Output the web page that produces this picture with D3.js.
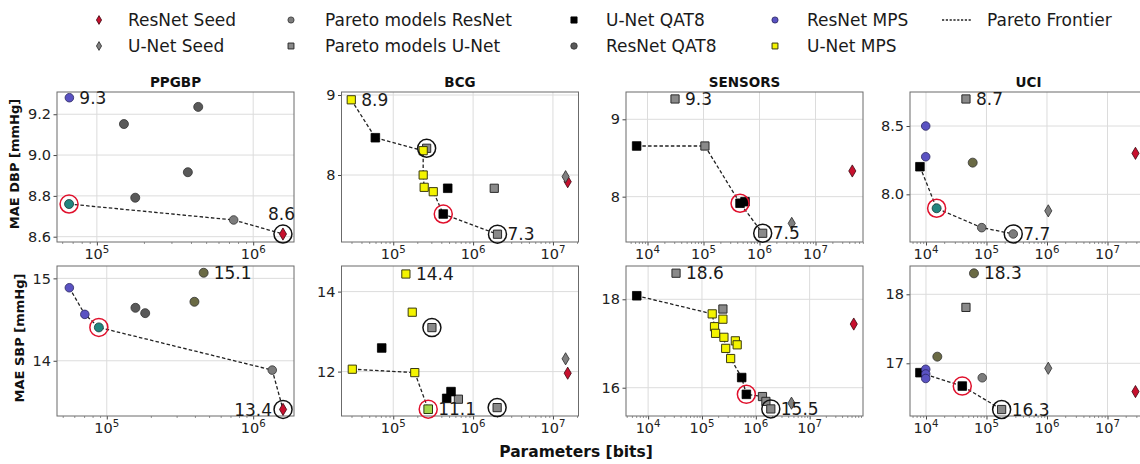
<!DOCTYPE html>
<html>
<head>
<meta charset="utf-8">
<script src="https://cdn.jsdelivr.net/npm/d3@7"></script>
<style>
  body { margin: 0; background: #fff; }
  svg { display: block; }
  text { font-family: "DejaVu Sans", sans-serif; }
</style>
</head>
<body>
<svg id="chart" width="1140" height="464"></svg>
<script>
// ---- data -------------------------------------------------------------
const datasets = ["PPGBP", "BCG", "SENSORS", "UCI"];
const metrics = ["DBP", "SBP"];
const metricLabels = ["MAE DBP [mmHg]", "MAE SBP [mmHg]"];

// every model point: [dataset, metric, parameters (bits), MAE (mmHg)]
const resnetSeed = [
  ["PPGBP", "DBP", 1.55e6, 8.613], ["PPGBP", "SBP", 1.60e6, 13.41],
  ["BCG", "DBP", 1.53e7, 7.916], ["BCG", "SBP", 1.53e7, 11.96],
  ["SENSORS", "DBP", 4.54e7, 8.332], ["SENSORS", "SBP", 6.6e7, 17.44],
  ["UCI", "DBP", 2.9e7, 8.30], ["UCI", "SBP", 2.9e7, 16.59]
];
const unetSeed = [
  ["BCG", "DBP", 1.44e7, 7.979], ["BCG", "SBP", 1.44e7, 12.32],
  ["SENSORS", "DBP", 3.76e6, 7.655], ["SENSORS", "SBP", 4.6e6, 15.65],
  ["UCI", "DBP", 1.05e6, 7.879], ["UCI", "SBP", 1.05e6, 16.928]
];
const paretoResNet = [
  ["PPGBP", "DBP", 7.5e5, 8.682], ["PPGBP", "SBP", 1.35e6, 13.887],
  ["UCI", "DBP", 8.34e4, 7.756], ["UCI", "DBP", 2.77e5, 7.71],
  ["UCI", "SBP", 8.51e4, 16.79]
];
const paretoUNet = [
  ["BCG", "DBP", 2.62e5, 8.334], ["BCG", "DBP", 1.84e6, 7.834], ["BCG", "DBP", 2.02e6, 7.26],
  ["BCG", "SBP", 3.05e5, 13.1], ["BCG", "SBP", 6.55e5, 11.31], ["BCG", "SBP", 2.0e6, 11.10],
  ["SENSORS", "DBP", 3.1e4, 9.263], ["SENSORS", "DBP", 1.06e5, 8.655], ["SENSORS", "DBP", 1.14e6, 7.527],
  ["SENSORS", "SBP", 3.3e4, 18.59], ["SENSORS", "SBP", 2.45e5, 17.78], ["SENSORS", "SBP", 1.33e6, 15.80],
  ["SENSORS", "SBP", 1.54e6, 15.69], ["SENSORS", "SBP", 1.9e6, 15.52],
  ["UCI", "DBP", 4.58e4, 8.698],
  ["UCI", "SBP", 4.58e4, 17.81], ["UCI", "SBP", 1.78e5, 16.33]
];
const unetQat8 = [
  ["BCG", "DBP", 5.97e4, 8.466], ["BCG", "DBP", 4.81e5, 7.834], ["BCG", "DBP", 4.23e5, 7.512],
  ["BCG", "SBP", 7.17e4, 12.59], ["BCG", "SBP", 5.29e5, 11.5], ["BCG", "SBP", 4.67e5, 11.33],
  ["SENSORS", "DBP", 6.4e3, 8.655], ["SENSORS", "DBP", 4.49e5, 7.915], ["SENSORS", "DBP", 5.51e5, 7.935],
  ["SENSORS", "SBP", 6.15e3, 18.08], ["SENSORS", "SBP", 5.47e5, 16.23], ["SENSORS", "SBP", 6.68e5, 15.85],
  ["UCI", "DBP", 7.95e3, 8.202],
  ["UCI", "SBP", 7.95e3, 16.864], ["UCI", "SBP", 3.98e4, 16.67]
];
const resnetQat8 = [
  ["PPGBP", "DBP", 1.49e5, 9.152], ["PPGBP", "DBP", 4.45e5, 9.236],
  ["PPGBP", "DBP", 3.82e5, 8.916], ["PPGBP", "DBP", 1.76e5, 8.791],
  ["PPGBP", "SBP", 1.57e5, 14.643], ["PPGBP", "SBP", 1.83e5, 14.578]
];
const resnetQat8Low = [
  ["PPGBP", "SBP", 3.97e5, 14.716], ["PPGBP", "SBP", 4.59e5, 15.068],
  ["UCI", "DBP", 5.92e4, 8.232],
  ["UCI", "SBP", 6.21e4, 18.304], ["UCI", "SBP", 1.54e4, 17.096]
];
const resnetMps = [
  ["PPGBP", "DBP", 6.67e4, 9.281],
  ["PPGBP", "SBP", 5.55e4, 14.886], ["PPGBP", "SBP", 7.08e4, 14.563],
  ["UCI", "DBP", 9.9e3, 8.5], ["UCI", "DBP", 9.9e3, 8.275],
  ["UCI", "SBP", 9.9e3, 16.913], ["UCI", "SBP", 9.9e3, 16.845], ["UCI", "SBP", 9.9e3, 16.78]
];
const unetMps = [
  ["BCG", "DBP", 2.98e4, 8.94], ["BCG", "DBP", 2.37e5, 8.304], ["BCG", "DBP", 2.37e5, 8.0],
  ["BCG", "DBP", 2.44e5, 7.846], ["BCG", "DBP", 3.17e5, 7.791],
  ["BCG", "SBP", 1.44e5, 14.44], ["BCG", "SBP", 1.73e5, 13.485],
  ["BCG", "SBP", 3.07e4, 12.06], ["BCG", "SBP", 1.86e5, 11.975],
  ["SENSORS", "SBP", 1.55e5, 17.67], ["SENSORS", "SBP", 2.45e5, 17.55], ["SENSORS", "SBP", 1.71e5, 17.38],
  ["SENSORS", "SBP", 1.79e5, 17.23], ["SENSORS", "SBP", 2.56e5, 17.14], ["SENSORS", "SBP", 4.17e5, 17.06],
  ["SENSORS", "SBP", 2.76e5, 16.89], ["SENSORS", "SBP", 4.51e5, 16.97], ["SENSORS", "SBP", 3.41e5, 16.66]
];
// chosen mixed-precision models (red ring)
const chosenResNet = [
  ["PPGBP", "DBP", 6.64e4, 8.760], ["PPGBP", "SBP", 8.83e4, 14.405], ["UCI", "DBP", 1.5e4, 7.898]
];
const chosenUNet = [
  ["BCG", "SBP", 2.74e5, 11.06]
];
const chosenRings = [
  ["PPGBP", "DBP", 6.64e4, 8.760], ["PPGBP", "SBP", 8.83e4, 14.405],
  ["BCG", "DBP", 4.23e5, 7.512], ["BCG", "SBP", 2.74e5, 11.06],
  ["SENSORS", "DBP", 4.49e5, 7.915], ["SENSORS", "SBP", 6.68e5, 15.85],
  ["UCI", "DBP", 1.5e4, 7.898], ["UCI", "SBP", 3.98e4, 16.67]
];
// reference models (black ring)
const referenceRings = [
  ["PPGBP", "DBP", 1.55e6, 8.613], ["PPGBP", "SBP", 1.60e6, 13.41],
  ["BCG", "DBP", 2.62e5, 8.334], ["BCG", "DBP", 2.02e6, 7.26],
  ["BCG", "SBP", 3.05e5, 13.1], ["BCG", "SBP", 2.0e6, 11.10],
  ["SENSORS", "DBP", 1.14e6, 7.527], ["SENSORS", "SBP", 1.9e6, 15.52],
  ["UCI", "DBP", 2.77e5, 7.71], ["UCI", "SBP", 1.78e5, 16.33]
];
// Pareto frontier, in drawing order per panel
const frontier = [
  ["PPGBP", "DBP", 6.64e4, 8.760], ["PPGBP", "DBP", 7.5e5, 8.682], ["PPGBP", "DBP", 1.55e6, 8.613],
  ["PPGBP", "SBP", 5.55e4, 14.886], ["PPGBP", "SBP", 7.08e4, 14.563], ["PPGBP", "SBP", 8.83e4, 14.405],
  ["PPGBP", "SBP", 1.35e6, 13.887], ["PPGBP", "SBP", 1.60e6, 13.41],
  ["BCG", "DBP", 2.98e4, 8.94], ["BCG", "DBP", 5.97e4, 8.466], ["BCG", "DBP", 2.37e5, 8.304],
  ["BCG", "DBP", 2.37e5, 8.0], ["BCG", "DBP", 2.44e5, 7.846], ["BCG", "DBP", 3.17e5, 7.791],
  ["BCG", "DBP", 4.23e5, 7.512], ["BCG", "DBP", 2.02e6, 7.26],
  ["BCG", "SBP", 3.07e4, 12.06], ["BCG", "SBP", 1.86e5, 11.975], ["BCG", "SBP", 2.74e5, 11.06],
  ["SENSORS", "DBP", 6.4e3, 8.655], ["SENSORS", "DBP", 1.06e5, 8.655],
  ["SENSORS", "DBP", 4.49e5, 7.915], ["SENSORS", "DBP", 1.14e6, 7.527],
  ["SENSORS", "SBP", 6.15e3, 18.08], ["SENSORS", "SBP", 1.55e5, 17.67], ["SENSORS", "SBP", 1.71e5, 17.38],
  ["SENSORS", "SBP", 1.79e5, 17.23], ["SENSORS", "SBP", 2.56e5, 17.14], ["SENSORS", "SBP", 2.76e5, 16.89],
  ["SENSORS", "SBP", 3.41e5, 16.66], ["SENSORS", "SBP", 5.47e5, 16.23], ["SENSORS", "SBP", 6.68e5, 15.85],
  ["SENSORS", "SBP", 1.33e6, 15.80], ["SENSORS", "SBP", 1.9e6, 15.52],
  ["UCI", "DBP", 7.95e3, 8.202], ["UCI", "DBP", 1.5e4, 7.898], ["UCI", "DBP", 8.34e4, 7.756],
  ["UCI", "DBP", 2.77e5, 7.71],
  ["UCI", "SBP", 7.95e3, 16.864], ["UCI", "SBP", 3.98e4, 16.67], ["UCI", "SBP", 1.78e5, 16.33]
];

// axis limits and y ticks per panel
const xLimits = [
  ["PPGBP", "DBP", 5.559e4, 1.824e6], ["PPGBP", "SBP", 4.571e4, 1.901e6],
  ["BCG", "DBP", 2.249e4, 2.089e7], ["BCG", "SBP", 2.249e4, 2.089e7],
  ["SENSORS", "DBP", 4.13e3, 7.047e7], ["SENSORS", "SBP", 3.882e3, 9.8e7],
  ["UCI", "DBP", 5.445e3, 4.498e7], ["UCI", "SBP", 5.445e3, 4.498e7]
];
const yLimits = [
  ["PPGBP", "DBP", 8.574, 9.309], ["PPGBP", "SBP", 13.33, 15.15],
  ["BCG", "DBP", 7.1625, 9.0375], ["BCG", "SBP", 10.89, 14.64],
  ["SENSORS", "DBP", 7.414, 9.353], ["SENSORS", "SBP", 15.36, 18.753],
  ["UCI", "DBP", 7.651, 8.749], ["UCI", "SBP", 16.236, 18.41]
];
const yTickValues = [
  ["PPGBP", "DBP", [8.6, 8.8, 9.0, 9.2]], ["PPGBP", "SBP", [14, 15]],
  ["BCG", "DBP", [8, 9]], ["BCG", "SBP", [12, 14]],
  ["SENSORS", "DBP", [8, 9]], ["SENSORS", "SBP", [16, 18]],
  ["UCI", "DBP", [8.0, 8.5]], ["UCI", "SBP", [17, 18]]
];
const yTickLabels = [
  ["PPGBP", "DBP", ["8.6", "8.8", "9.0", "9.2"]], ["PPGBP", "SBP", ["14", "15"]],
  ["BCG", "DBP", ["8", "9"]], ["BCG", "SBP", ["12", "14"]],
  ["SENSORS", "DBP", ["8", "9"]], ["SENSORS", "SBP", ["16", "18"]],
  ["UCI", "DBP", ["8.0", "8.5"]], ["UCI", "SBP", ["17", "18"]]
];

// ---- layout & styling -------------------------------------------------
const svg = d3.select("#chart");
const colLeft = [57, 341.5, 626, 910];
const panelW = 237;
const rowTop = [92, 266];
const panelH = 150;

const markerPath = {
  circle: s => d3.symbol(d3.symbolCircle, Math.PI * s * s)(),
  square: s => `M${-s},${-s}H${s}V${s}H${-s}Z`,
  diamond: s => `M0,${-s * 1.45}L${s * 0.85},0L0,${s * 1.45}L${-s * 0.85},0Z`
};

const series = [
  { data: resnetSeed,   name: "ResNet Seed",          shape: "diamond", size: 4.2, fill: "#c8102e", stroke: "#3b0710", sw: 0.8 },
  { data: unetSeed,     name: "U-Net Seed",           shape: "diamond", size: 4.2, fill: "#7f7f7f", stroke: "#2a2a2a", sw: 0.8 },
  { data: paretoResNet, name: "Pareto models ResNet", shape: "circle",  size: 4.3, fill: "#7c7c7c", stroke: "#333", sw: 0.8 },
  { data: paretoUNet,   name: "Pareto models U-Net",  shape: "square",  size: 4.1, fill: "#8a8a8a", stroke: "#2a2a2a", sw: 1 },
  { data: unetQat8,     name: "U-Net QAT8",           shape: "square",  size: 4.3, fill: "#000", stroke: "#000", sw: 0.8 },
  { data: resnetQat8,   name: "ResNet QAT8",          shape: "circle",  size: 4.5, fill: "#595959", stroke: "#333", sw: 0.8 },
  { data: resnetQat8Low, name: null,                  shape: "circle",  size: 4.5, fill: "#6a6a44", stroke: "#333", sw: 0.8 },
  { data: resnetMps,    name: "ResNet MPS",           shape: "circle",  size: 4.3, fill: "#5a52c2", stroke: "#2a2660", sw: 0.8 },
  { data: unetMps,      name: "U-Net MPS",            shape: "square",  size: 4.1, fill: "#f4f400", stroke: "#3a3a10", sw: 1 },
  { data: chosenResNet, name: null,                   shape: "circle",  size: 4.5, fill: "#22857f", stroke: "#1a3a3a", sw: 0.8 },
  { data: chosenUNet,   name: null,                   shape: "square",  size: 4.3, fill: "#a4d64a", stroke: "#2a3a10", sw: 1 }
];

const labelPlacement = {
  "PPGBP-DBP-min": { dx: -15, dy: -20, anchor: "start" },
  "PPGBP-SBP-min": { dx: -11, dy: 0, anchor: "end" }
};

const pick = (arr, d, m) => arr.find(r => r[0] === d && r[1] === m);
const inPanel = (arr, d, m) => arr.filter(r => r[0] === d && r[1] === m);

const defs = svg.append("defs");

metrics.forEach((metric, ri) => {
  datasets.forEach((ds, ci) => {
    const x0 = colLeft[ci], y0 = rowTop[ri];
    const xl = pick(xLimits, ds, metric), yl = pick(yLimits, ds, metric);
    const x = d3.scaleLog().domain([xl[2], xl[3]]).range([x0, x0 + panelW]);
    const y = d3.scaleLinear().domain([yl[2], yl[3]]).range([y0 + panelH, y0]);
    const yt = pick(yTickValues, ds, metric)[2];
    const ytl = pick(yTickLabels, ds, metric)[2];
    const clipId = `clip-${ds}-${metric}`;
    defs.append("clipPath").attr("id", clipId)
      .append("rect").attr("x", x0).attr("y", y0).attr("width", panelW).attr("height", panelH);

    const g = svg.append("g");
    const majors = d3.range(Math.ceil(Math.log10(xl[2])), Math.floor(Math.log10(xl[3])) + 1).map(e => Math.pow(10, e));
    const minors = [];
    d3.range(Math.floor(Math.log10(xl[2])), Math.ceil(Math.log10(xl[3]))).forEach(e => {
      for (let k = 2; k <= 9; k++) {
        const v = k * Math.pow(10, e);
        if (v > xl[2] && v < xl[3]) minors.push(v);
      }
    });

    // grid
    const grid = g.append("g").attr("clip-path", `url(#${clipId})`);
    grid.selectAll("line.gx").data(majors).join("line")
      .attr("x1", d => x(d)).attr("x2", d => x(d)).attr("y1", y0).attr("y2", y0 + panelH)
      .attr("stroke", "#dcdcdc").attr("stroke-width", 1);
    grid.selectAll("line.gy").data(yt).join("line")
      .attr("x1", x0).attr("x2", x0 + panelW).attr("y1", d => y(d)).attr("y2", d => y(d))
      .attr("stroke", "#dcdcdc").attr("stroke-width", 1);

    // x axis (log decades with superscript labels)
    const xAxis = g.append("g").attr("transform", `translate(0,${y0 + panelH})`)
      .call(d3.axisBottom(x).tickValues(majors).tickSize(3.5).tickFormat(""));
    xAxis.select(".domain").remove();
    xAxis.selectAll("line").attr("stroke", "#444");
    g.append("g").attr("transform", `translate(0,${y0 + panelH})`)
      .call(d3.axisBottom(x).tickValues(minors).tickSize(2).tickFormat(""))
      .call(a => a.select(".domain").remove())
      .selectAll("line").attr("stroke", "#666").attr("stroke-width", 0.7);
    majors.forEach(v => {
      const t = g.append("text").attr("x", x(v)).attr("y", y0 + panelH + 17)
        .attr("text-anchor", "middle").attr("font-size", 14.5).attr("fill", "#222");
      t.append("tspan").text("10");
      t.append("tspan").attr("dy", -6.5).attr("font-size", 10.2).text(Math.round(Math.log10(v)));
    });

    // y axis
    const yAxis = g.append("g").attr("transform", `translate(${x0},0)`)
      .call(d3.axisLeft(y).tickValues(yt).tickSize(3.5).tickPadding(2.5).tickFormat((d, i) => ytl[i]));
    yAxis.select(".domain").remove();
    yAxis.selectAll("line").attr("stroke", "#444");
    yAxis.selectAll("text").attr("font-size", 14.5).attr("fill", "#222")
      .style("font-family", '"DejaVu Sans", sans-serif');

    // frame
    g.append("rect").attr("x", x0).attr("y", y0).attr("width", panelW).attr("height", panelH)
      .attr("fill", "none").attr("stroke", "#6b6b6b").attr("stroke-width", 1);

    // title
    if (ri === 0) {
      g.append("text").attr("x", x0 + panelW / 2).attr("y", y0 - 5)
        .attr("text-anchor", "middle").attr("font-size", 13.5).attr("font-weight", "bold")
        .attr("fill", "#111").text(ds);
    }

    // y label
    if (ci === 0) {
      let maxW = 0;
      yAxis.selectAll("text").each(function () { maxW = Math.max(maxW, this.getComputedTextLength()); });
      const lx = x0 - 6 - maxW - 9;
      const ly = y0 + panelH / 2 - 3;
      g.append("text").attr("transform", `translate(${lx},${ly}) rotate(-90)`)
        .attr("text-anchor", "middle").attr("font-size", 13).attr("font-weight", "bold")
        .attr("fill", "#111").text(metricLabels[ri]);
    }

    const plot = g.append("g").attr("clip-path", `url(#${clipId})`);

    // Pareto frontier
    const fr = inPanel(frontier, ds, metric);
    plot.append("path")
      .attr("d", d3.line().x(d => x(d[2])).y(d => y(d[3]))(fr))
      .attr("fill", "none").attr("stroke", "#222").attr("stroke-width", 1.3)
      .attr("stroke-dasharray", "3.5,2.2");

    // markers
    const allPts = [];
    series.forEach(s => {
      const pts = inPanel(s.data, ds, metric);
      pts.forEach(p => allPts.push(p));
      plot.selectAll(null).data(pts).join("path")
        .attr("transform", d => `translate(${x(d[2])},${y(d[3])})`)
        .attr("d", markerPath[s.shape](s.size))
        .attr("fill", s.fill).attr("stroke", s.stroke).attr("stroke-width", s.sw);
    });

    // rings
    g.selectAll(null).data(inPanel(referenceRings, ds, metric)).join("circle")
      .attr("cx", d => x(d[2])).attr("cy", d => y(d[3])).attr("r", 9)
      .attr("fill", "none").attr("stroke", "#111").attr("stroke-width", 1.5);
    g.selectAll(null).data(inPanel(chosenRings, ds, metric)).join("circle")
      .attr("cx", d => x(d[2])).attr("cy", d => y(d[3])).attr("r", 9)
      .attr("fill", "none").attr("stroke", "#e0102c").attr("stroke-width", 1.5);

    // value labels at the highest and lowest MAE
    const hi = allPts.reduce((a, b) => (b[3] > a[3] ? b : a));
    const lo = allPts.reduce((a, b) => (b[3] < a[3] ? b : a));
    [[hi, "max"], [lo, "min"]].forEach(([p, kind]) => {
      const pl = labelPlacement[`${ds}-${metric}-${kind}`] || { dx: 10, dy: 0, anchor: "start" };
      g.append("text").attr("x", x(p[2]) + pl.dx).attr("y", y(p[3]) + pl.dy)
        .attr("dy", "0.36em").attr("text-anchor", pl.anchor)
        .attr("font-size", 17).attr("fill", "#1a1a1a").text(d3.format(".1f")(p[3]));
    });
  });
});

// shared x label
svg.append("text").attr("x", 576).attr("y", 457).attr("text-anchor", "middle")
  .attr("font-size", 15.5).attr("font-weight", "bold").attr("fill", "#111").text("Parameters [bits]");

// ---- legend -----------------------------------------------------------
const legendCols = [
  { mx: 99, tx: 128 }, { mx: 291, tx: 325 }, { mx: 574, tx: 606 }, { mx: 775, tx: 807 }, { mx: 956, tx: 987 }
];
const legendRows = [20, 46];
const legendOrder = [
  ["ResNet Seed", "U-Net Seed"],
  ["Pareto models ResNet", "Pareto models U-Net"],
  ["U-Net QAT8", "ResNet QAT8"],
  ["ResNet MPS", "U-Net MPS"],
  ["Pareto Frontier"]
];
const legend = svg.append("g");
legendOrder.forEach((col, ci) => {
  col.forEach((name, ri) => {
    const cy = legendRows[ri];
    const c = legendCols[ci];
    const s = series.find(q => q.name === name);
    if (s) {
      legend.append("path").attr("transform", `translate(${c.mx},${cy})`)
        .attr("d", markerPath[s.shape](s.size * 0.72))
        .attr("fill", s.fill).attr("stroke", s.stroke).attr("stroke-width", s.sw);
    } else {
      legend.append("line").attr("x1", c.mx - 14).attr("x2", c.mx + 15).attr("y1", cy).attr("y2", cy)
        .attr("stroke", "#222").attr("stroke-width", 1.3).attr("stroke-dasharray", "2.2,1.6");
    }
    legend.append("text").attr("x", c.tx).attr("y", cy).attr("dy", "0.36em")
      .attr("font-size", 17).attr("fill", "#1a1a1a").text(name);
  });
});
</script>
</body>
</html>
